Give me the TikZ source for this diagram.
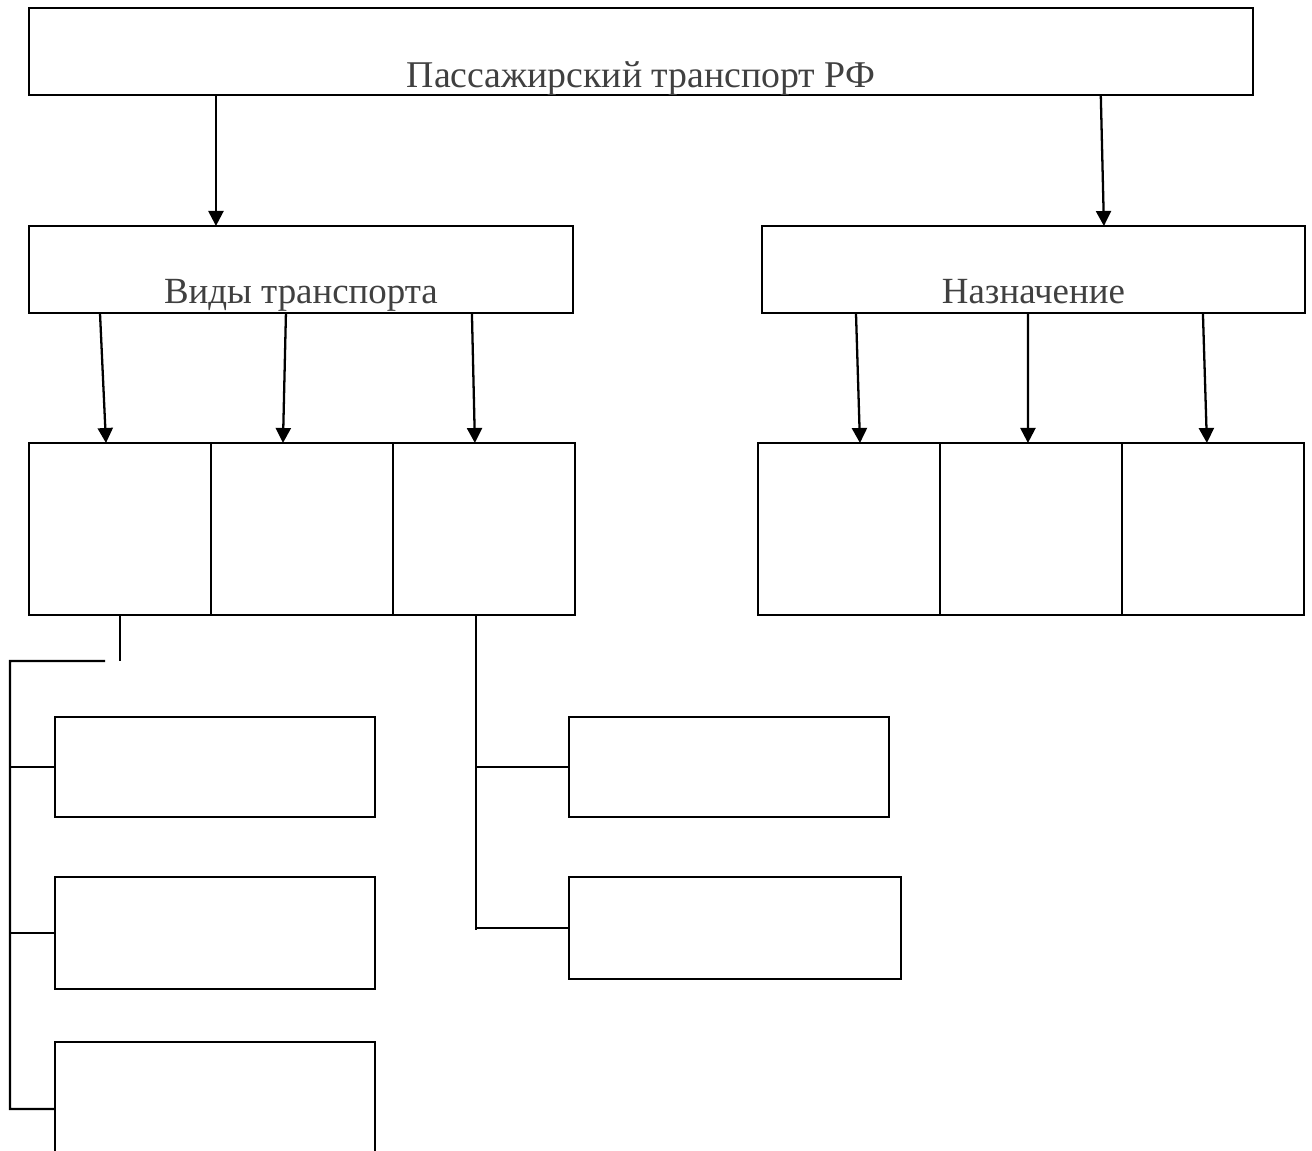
\documentclass[tikz,border=0pt]{standalone}
\usepackage{fontspec}
\setmainfont{Liberation Serif}
\usetikzlibrary{positioning, arrows.meta}

\begin{document}
\begin{tikzpicture}[x=0.02cm,y=-0.02cm,line width=1.3pt,
                    >={Triangle[length=0.3cm,width=0.3cm]},
                    head node/.style={draw,rectangle,anchor=north west,inner sep=0pt,outer sep=0pt,
                      minimum height=1.74cm,text height=1.55cm,text depth=0.19cm,
                      text=black!75,font=\fontsize{21}{25}\selectfont},
                    cell node/.style={draw,rectangle,inner sep=0pt,outer sep=0pt,
                      minimum width=3.64cm,minimum height=3.44cm},
                    sub node/.style={draw,rectangle,anchor=north west,inner sep=0pt,outer sep=0pt,
                      minimum width=6.4cm}]

  \useasboundingbox (0,0) rectangle (1312,1151);
  \clip (0,0) rectangle (1312,1151);

  \node[head node,minimum width=24.48cm,text height=1.6cm,text depth=0.14cm,
        font=\fontsize{21.5}{26}\selectfont] (top) at (29,8) {Пассажирский транспорт РФ};
  \node[head node,minimum width=10.88cm] (vid) at (29,226) {Виды транспорта};
  \node[head node,minimum width=10.86cm] (naz) at (762,226) {Назначение};

  \node[cell node,anchor=north west] (v1) at (29,443) {};
  \node[cell node] (v2) [right=0pt of v1] {};
  \node[cell node] (v3) [right=0pt of v2] {};
  \node[cell node,anchor=north west] (n1) at (758,443) {};
  \node[cell node] (n2) [right=0pt of n1] {};
  \node[cell node] (n3) [right=0pt of n2] {};

  \node[sub node,minimum height=2cm] (l1) at (55,717) {};
  \node[sub node,minimum height=2.24cm] (l2) at (55,877) {};
  \node[sub node,minimum height=2.68cm] (l3) at (55,1042) {};
  \node[sub node,minimum height=2cm] (r1) at (569,717) {};
  \node[sub node,minimum width=6.64cm,minimum height=2.04cm] (r2) at (569,877) {};

  \coordinate (lt) at (105,661);
  \coordinate (lc) at (10,661);
  \coordinate (lb) at (10,1109);
  \coordinate (rb) at (476,930);

  \path[->]
    ([xshift=3.74cm]top.south west) edge ([xshift=3.74cm]vid.north west)
    ([xshift=21.44cm]top.south west) edge ([xshift=6.84cm]naz.north west)
    ([xshift=1.42cm]vid.south west) edge ([xshift=1.54cm]v1.north west)
    ([xshift=5.14cm]vid.south west) edge ([xshift=1.44cm]v2.north west)
    ([xshift=8.86cm]vid.south west) edge ([xshift=1.64cm]v3.north west)
    ([xshift=1.88cm]naz.south west) edge ([xshift=2.04cm]n1.north west)
    ([xshift=5.32cm]naz.south west) edge ([xshift=1.76cm]n2.north west)
    ([xshift=8.82cm]naz.south west) edge ([xshift=1.70cm]n3.north west);

  \draw (v1.south) -- (v1.south |- lc);
  \draw (lt) -- (lc) -- (lb) -- (l3.west);
  \draw (l1.west -| lc) -- (l1.west);
  \draw (l2.west -| lc) -- (l2.west);

  \draw (v3.south -| rb) -- (rb);
  \draw (r1.west -| rb) -- (r1.west);
  \draw (r2.west -| rb) -- (r2.west);
\end{tikzpicture}
\end{document}
